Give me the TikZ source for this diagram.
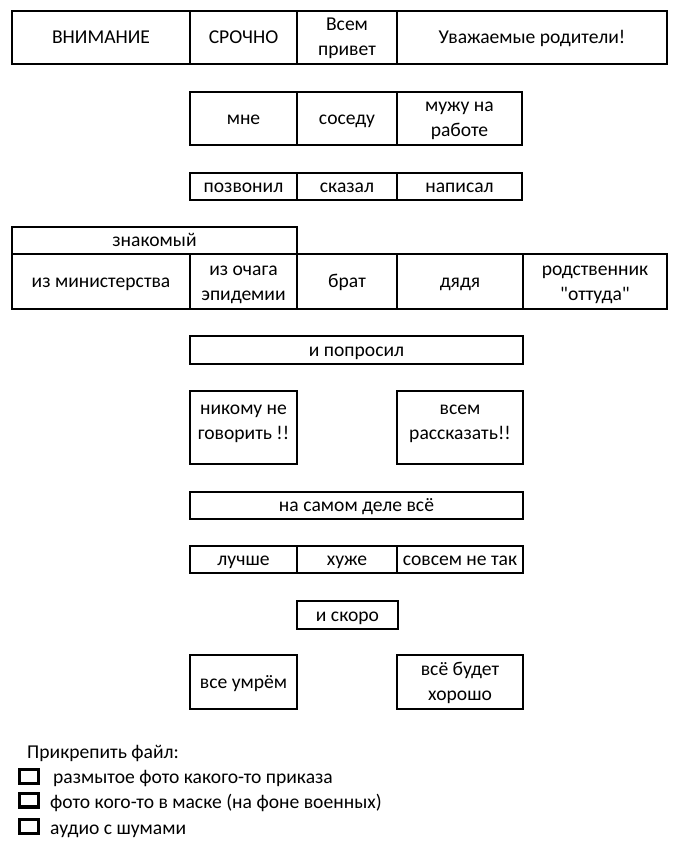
\documentclass[tikz,border=0pt]{standalone}
\usepackage{fontspec}
\newfontfamily\cellff{Carlito}
\newcommand\cellfont{\cellff\fontsize{19.6}{25}\selectfont}
% strut: baseline of a single line sits 8pt below the cell centre
\newcommand\stA{\rule[-4pt]{0pt}{20pt}}
% centred strut for the tall boxes
\newcommand\stB{\rule[-11.5pt]{0pt}{11.5pt}}
\tikzset{
  cell/.style={draw, line width=2.3pt, inner sep=0pt, align=center, font=\cellfont, anchor=center},
  chk/.style={draw, line width=3.3pt, inner sep=0pt, minimum width=18.7pt, minimum height=13.7pt},
  lbl/.style={inner sep=0pt, anchor=base west, font=\cellfont}
}
% \cel{name}{x1}{x2}{y1}{y2}{text}
\newcommand\cel[6]{\node[cell, minimum width={(#3-#2)*1pt}, minimum height={(#5-#4)*1pt}] (#1) at ({(#2+#3)/2}, {(#4+#5)/2}) {#6};}
\begin{document}
\begin{tikzpicture}[x=1pt, y=-1pt]
\useasboundingbox[fill=white] (0,0) rectangle (696,853);
% row 1
\cel{vnim}{12}{190}{11}{64}{\stA ВНИМАНИЕ}
\cel{sroch}{190}{297}{11}{64}{\stA СРОЧНО}
\cel{vsem}{297}{397}{11}{64}{\stA Всем\\\stA привет}
\cel{uvaz}{397}{667}{11}{64}{\stA Уважаемые родители!}
% row 2
\cel{mne}{190}{297}{92}{145}{\stA мне}
\cel{sosedu}{297}{397}{92}{145}{\stA соседу}
\cel{muzhu}{397}{522}{92}{145}{\stA мужу на\\\stA работе}
% row 3
\cel{pozv}{190}{297}{173}{200}{\stA позвонил}
\cel{skaz}{297}{397}{173}{200}{\stA сказал}
\cel{napis}{397}{522}{173}{200}{\stA написал}
% row 4
\cel{znak}{12}{297}{227}{254}{\stA знакомый}
\cel{minist}{12}{190}{254}{309}{\stA из министерства}
\cel{ochag}{190}{297}{254}{309}{\stA из очага\\\stA эпидемии}
\cel{brat}{297}{397}{254}{309}{\stA брат}
\cel{dyadya}{397}{523}{254}{309}{\stA дядя}
\cel{rodst}{523}{667}{254}{309}{\stA родственник\\\stA "оттуда"}
% row 5
\cel{poprosil}{190}{523}{336}{364}{\stA и попросил}
% row 6
\cel{nikomu}{190}{297}{391}{464}{\stB никому не\\\stB говорить !!}
\cel{rassk}{397}{523}{391}{464}{\stB всем\\\stB рассказать!!}
% row 7
\cel{nasamom}{190}{523}{492}{519}{\stA на самом деле всё}
% row 8
\cel{luchshe}{190}{297}{546}{573}{\stA лучше}
\cel{huzhe}{297}{397}{546}{573}{\stA хуже}
\cel{nettak}{397}{523}{546}{573}{\stA совсем не так}
% row 9
\cel{skoro}{297}{398}{601}{629}{\stA и скоро}
% row 10
\cel{umrem}{190}{297}{655}{709}{\stA все умрём}
\cel{horosho}{397}{523}{655}{709}{\stA всё будет\\\stA хорошо}
% attachments
\node[lbl] (prikr) at (27,758) {Прикрепить файл:};
\node[chk] (c1) at (29,776.5) {};
\node[chk] (c2) at (29,800) {};
\node[chk] (c3) at (29,826.5) {};
\node[lbl] (t1) at (53,783) {размытое фото какого-то приказа};
\node[lbl] (t2) at (50,808) {фото кого-то в маске (на фоне военных)};
\node[lbl] (t3) at (50,834) {аудио с шумами};
\end{tikzpicture}
\end{document}
